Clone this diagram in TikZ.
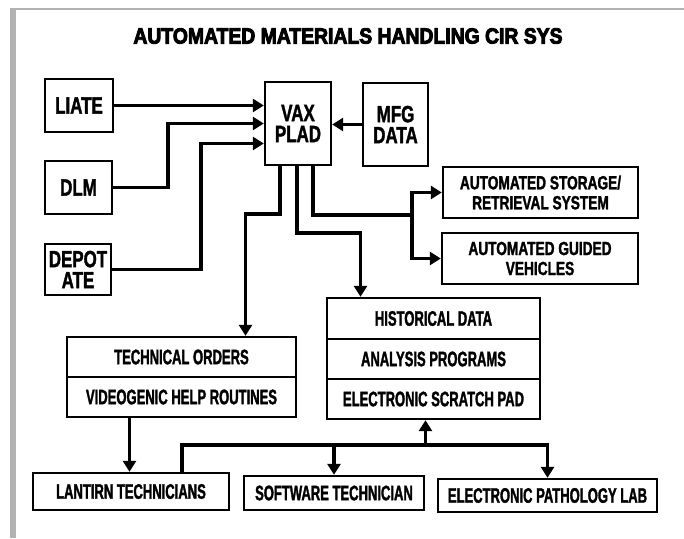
\documentclass[tikz,border=0pt]{standalone}
\usepackage{fontspec}
\setmainfont{Liberation Sans}[FakeStretch=0.62,FakeBold=1.5]
\newfontfamily\widefont{Liberation Sans}[FakeStretch=0.72,FakeBold=1.5]
\newfontfamily\titlefont{Liberation Sans}[FakeStretch=0.88,FakeBold=4]
\usetikzlibrary{arrows.meta}

\begin{document}
\begin{tikzpicture}[
  x=1pt, y=-1pt,
  >={Triangle[length=11pt,width=13pt]},
  box/.style={draw, line width=2.4pt, inner sep=0pt, align=center,
    font=\bfseries\fontsize{21}{21}\selectfont},
  twoline/.style={box, font=\widefont\bfseries\fontsize{19}{20}\selectfont},
  bigbox/.style={box, font=\widefont\bfseries\fontsize{23.5}{21}\selectfont},
  wire/.style={line width=3.6pt},
  feed/.style={wire, ->},
  scanedge/.style={gray!60}
]
\useasboundingbox (0,0) rectangle (684,538);
\fill[scanedge] (10,9) rectangle (16,538);
\draw[scanedge, line width=1.2pt] (10,9) -- (684,9);

\node (title) at (348,36) {\titlefont\bfseries\fontsize{22}{22}\selectfont AUTOMATED MATERIALS HANDLING CIR SYS};

\node[bigbox, minimum width=68pt, minimum height=53pt] (LIATE) at (79,105.5) {LIATE};
\node[bigbox, minimum width=67pt, minimum height=53pt] (DLM) at (78.5,187.5) {DLM};
\node[bigbox, minimum width=66pt, minimum height=51pt] (DEPOT) at (78,269.5) {DEPOT\\ATE};
\node[bigbox, minimum width=66pt, minimum height=83pt] (VAX) at (298,123.5) {VAX\\PLAD};
\node[bigbox, minimum width=65pt, minimum height=83pt] (MFG) at (395.5,124.5) {MFG\\DATA};
\node[twoline, minimum width=195pt, minimum height=51pt] (ASRS) at (540.5,192.5) {AUTOMATED STORAGE/\\RETRIEVAL SYSTEM};
\node[twoline, minimum width=196pt, minimum height=51pt] (AGV) at (540,258.5) {AUTOMATED GUIDED\\VEHICLES};

\node[box, minimum width=229pt, minimum height=40pt] (TO) at (181.5,357) {TECHNICAL ORDERS};
\node[box, minimum width=229pt, minimum height=40pt] (VHR) at (181.5,397) {VIDEOGENIC HELP ROUTINES};

\node[box, minimum width=213pt, minimum height=41pt] (HD) at (433.5,318.5) {HISTORICAL DATA};
\node[box, minimum width=213pt, minimum height=40pt] (AP) at (433.5,359) {ANALYSIS PROGRAMS};
\node[box, minimum width=213pt, minimum height=40pt] (ESP) at (433.5,399) {ELECTRONIC SCRATCH PAD};

\node[box, minimum width=196pt, minimum height=37pt] (LAN) at (131,491.5) {LANTIRN TECHNICIANS};
\node[box, minimum width=180pt, minimum height=34pt] (SW) at (334,493) {SOFTWARE TECHNICIAN};
\node[box, minimum width=219pt, minimum height=33pt] (EPL) at (547.5,495.5) {ELECTRONIC PATHOLOGY LAB};

\draw[feed] (LIATE.east) -- (LIATE.east -| VAX.west);
\draw[feed] (DLM.east) -- ++(55,0) |- (VAX.west);
\draw[feed] (DEPOT.east) -- ++(89,0) |- ([yshift=-20pt]VAX.west);
\draw[feed] (MFG.west) -- (MFG.west -| VAX.east);

\draw[feed] ([xshift=-18pt]VAX.south) -- ++(0,48) -| ([xshift=64pt]TO.north);
\draw[feed] ([xshift=-1pt]VAX.south) -- ++(0,67) -| ([xshift=-73pt]HD.north);
\coordinate (split) at (412,215);
\draw[wire] ([xshift=15pt]VAX.south) |- (split);
\draw[feed] (split) |- (ASRS.west);
\draw[feed] (split) |- (AGV.west);

\draw[feed] ([xshift=-52pt]VHR.south) -- ([xshift=-52pt]VHR.south |- LAN.north);
\draw[feed] ([xshift=51pt]LAN.north) -- ++(0,-27) coordinate (bus) -| (EPL.north);
\draw[feed] (bus -| SW.north) -- (SW.north);
\coordinate (up) at ([xshift=-8pt]ESP.south);
\draw[feed] (bus -| up) -- (up);
\end{tikzpicture}
\end{document}
